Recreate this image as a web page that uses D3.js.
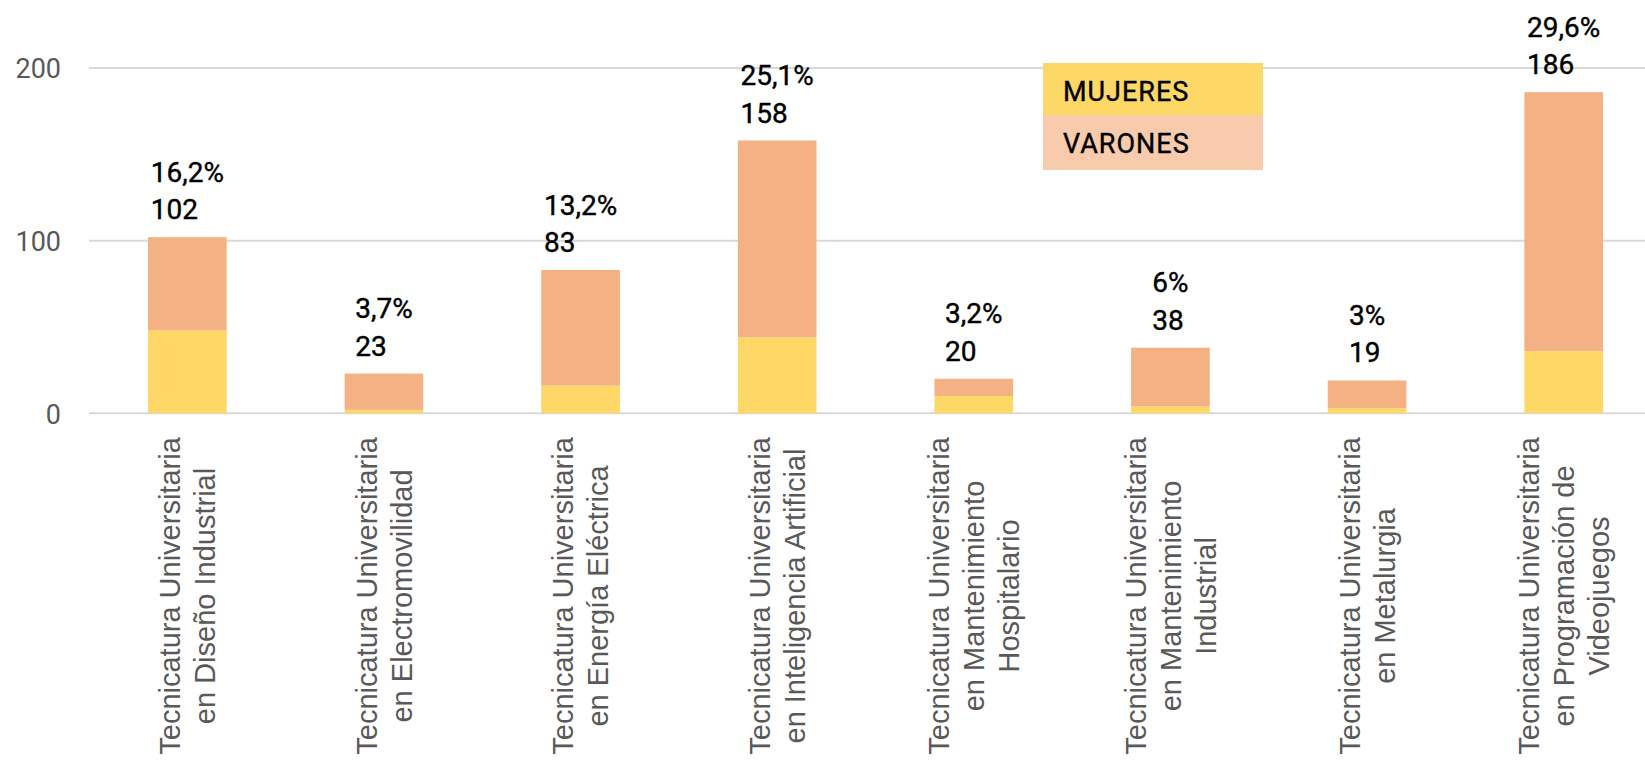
<!DOCTYPE html>
<html>
<head>
<meta charset="utf-8">
<script src="https://cdn.jsdelivr.net/npm/d3@7"></script>
<style>
  html, body { margin: 0; padding: 0; background: #ffffff; }
  svg { display: block; }
</style>
</head>
<body>
<svg id="chart" width="1645" height="761"></svg>
<script>
// ---- data ----
const categories = [
  ["Tecnicatura Universitaria", "en Diseño Industrial"],
  ["Tecnicatura Universitaria", "en Electromovilidad"],
  ["Tecnicatura Universitaria", "en Energía Eléctrica"],
  ["Tecnicatura Universitaria", "en Inteligencia Artificial"],
  ["Tecnicatura Universitaria", "en Mantenimiento", "Hospitalario"],
  ["Tecnicatura Universitaria", "en Mantenimiento", "Industrial"],
  ["Tecnicatura Universitaria", "en Metalurgia"],
  ["Tecnicatura Universitaria", "en Programación de", "Videojuegos"]
];
const mujeres = [48, 2, 16, 44, 10, 4, 3, 36];
const varones = [54, 21, 67, 114, 10, 34, 16, 150];
const totals = [102, 23, 83, 158, 20, 38, 19, 186];
const percentLabels = ["16,2%", "3,7%", "13,2%", "25,1%", "3,2%", "6%", "3%", "29,6%"];
const yTicks = [0, 100, 200];
const seriesNames = ["MUJERES", "VARONES"];

// ---- setup ----
const svg = d3.select("#chart");
const W = 1645, H = 761;
const colMuj = "#FDD866", colVar = "#F4B183", colVarLegend = "#F8CBAD";
const numFont = "Roboto, 'DejaVu Sans Condensed', sans-serif";

const x = d3.scaleBand()
  .domain(d3.range(categories.length))
  .range([89, 1662])
  .paddingInner(0.6)
  .paddingOuter(0.3);

const y = d3.scaleLinear().domain([0, 200]).range([413.3, 68]);

// gridlines
svg.append("g").selectAll("line").data(yTicks).join("line")
  .attr("x1", 89).attr("x2", W)
  .attr("y1", d => y(d)).attr("y2", d => y(d))
  .attr("stroke", "#d9d9d9").attr("stroke-width", 2);

// y axis labels
const yAxis = d3.axisLeft(y).tickValues(yTicks).tickSize(0).tickPadding(0).tickFormat(d3.format("d"));
const yg = svg.append("g").attr("transform", "translate(61,0)").call(yAxis);
yg.select(".domain").remove();
yg.selectAll("text")
  .attr("font-family", numFont)
  .attr("font-size", 27)
  .attr("fill", "#595959")
  .attr("dy", "0.36em");

// stacked bars
const stackData = categories.map((c, i) => ({ i, MUJERES: mujeres[i], VARONES: varones[i] }));
const stack = d3.stack().keys(seriesNames)(stackData);
const colors = { MUJERES: colMuj, VARONES: colVar };

svg.append("g").selectAll("g").data(stack).join("g")
  .attr("fill", d => colors[d.key])
  .selectAll("rect").data(d => d).join("rect")
  .attr("x", d => x(d.data.i))
  .attr("width", x.bandwidth())
  .attr("y", d => y(d[1]))
  .attr("height", d => y(d[0]) - y(d[1]));

// data labels (percent + total), left-aligned block centered on bar
const lg = svg.append("g");
categories.forEach((c, i) => {
  const g = lg.append("g");
  const top = y(totals[i]);
  const t1 = g.append("text").text(percentLabels[i])
    .attr("y", top - 18 - 37.5);
  const t2 = g.append("text").text(String(totals[i]))
    .attr("y", top - 18);
  g.selectAll("text")
    .attr("font-family", numFont)
    .attr("font-size", 28)
    .attr("fill", "#000")
    .attr("stroke", "#000")
    .attr("stroke-width", 0.4);
  const w = Math.max(t1.node().getComputedTextLength(), t2.node().getComputedTextLength());
  const left = x(i) + x.bandwidth() / 2 - w / 2;
  g.selectAll("text").attr("x", left);
});

// x axis category labels, rotated
const xg = svg.append("g");
categories.forEach((lines, i) => {
  const cx = x(i) + x.bandwidth() / 2;
  const t = xg.append("text")
    .attr("transform", `translate(${cx},596) rotate(-90)`)
    .attr("text-anchor", "middle")
    .attr("font-family", "'Liberation Sans', Arial, sans-serif")
    .attr("font-size", 29)
    .attr("fill", "#595959");
  const n = lines.length;
  lines.forEach((ln, j) => {
    t.append("tspan")
      .attr("x", 0)
      .attr("y", (j - (n - 1) / 2) * 35)
      .attr("dy", "0.35em")
      .text(ln);
  });
});

// legend
const leg = svg.append("g").attr("transform", "translate(1043,63)");
const legColors = [colMuj, colVarLegend];
const legY = [0, 52];
const legH = [52, 55];
seriesNames.forEach((name, k) => {
  leg.append("rect")
    .attr("x", 0).attr("y", legY[k])
    .attr("width", 220).attr("height", legH[k])
    .attr("fill", legColors[k]);
  leg.append("text")
    .attr("x", 20).attr("y", legY[k] + 37.5)
    .attr("font-family", numFont)
    .attr("font-size", 27)
    .attr("letter-spacing", 1)
    .attr("fill", "#000")
    .attr("stroke", "#000")
    .attr("stroke-width", 0.4)
    .text(name);
});
</script>
</body>
</html>
